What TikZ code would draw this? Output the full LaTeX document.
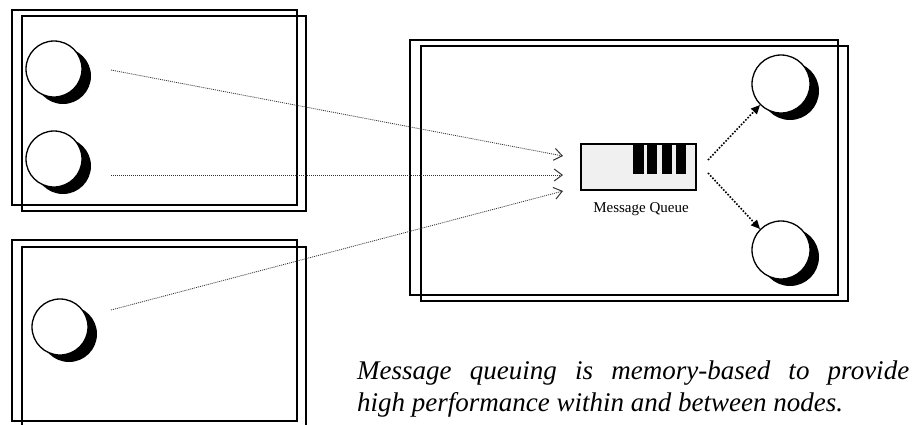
\documentclass[tikz,border=0pt]{standalone}
\usepackage{fontspec}
\setmainfont{Liberation Serif}
\usetikzlibrary{arrows.meta,shadows}
\begin{document}
\begin{tikzpicture}[x=1pt,y=-1pt,
  frame/.style={draw=black,line width=1.6pt},
  proc/.style={circle,draw=black,line width=1.3pt,fill=white,minimum size=56pt,inner sep=0pt,
    general shadow={fill=black,shadow xshift=9pt,shadow yshift=-7pt}},
  feed/.style={draw=black!80,line width=0.8pt,dash pattern=on 1pt off 1pt,
    -{Straight Barb[length=8pt,width=12pt,line width=1pt]}},
  deliver/.style={draw=black,line width=1.6pt,dash pattern=on 1.6pt off 1.6pt,
    -{Triangle[length=9pt,width=8pt]}},
  bar/.style={fill=black,draw=none}]
\useasboundingbox (0,0) rectangle (914,424);
% frames
\draw[frame] (12,10) rectangle (297,205);
\draw[frame] (22,16) rectangle (306,211);
\draw[frame] (12,240) rectangle (297,421);
\draw[frame] (22,247) rectangle (306,430);
\draw[frame] (410,40) rectangle (838,295);
\draw[frame] (421,46) rectangle (848,301);
% processes
\node[proc] (p1) at (54,69) {};
\node[proc] (p2) at (54,159) {};
\node[proc] (p3) at (60,327) {};
\node[proc,minimum size=58pt] (p4) at (781,84) {};
\node[proc,minimum size=58pt] (p5) at (781,250) {};
% queue
\node[draw=black,line width=1.3pt,fill=black!6,minimum width=115pt,minimum height=46pt,inner sep=0pt] (q) at (638.5,167) {};
\fill[bar] (633,144) rectangle (644,174);
\fill[bar] (647,144) rectangle (657,174);
\fill[bar] (662,144) rectangle (672,174);
\fill[bar] (676,144) rectangle (686,174);
\draw[line width=1.3pt] (q.north west) rectangle (q.south east);
\node[font=\fontsize{15}{17}\selectfont] (ql) at (641,209) {Message Queue};
% connector ends
\coordinate (s1) at (111,70);
\coordinate (s2) at (111,175);
\coordinate (s3) at (111,310);
\coordinate (t1) at (563,156);
\coordinate (t2) at (563,175);
\coordinate (t3) at (563,191);
\coordinate (o1) at (708,160);
\coordinate (o2) at (708,173);
\draw[feed] (s1) -- (t1);
\draw[feed] (s2) -- (t2);
\draw[feed] (s3) -- (t3);
\draw[deliver] (o1) -- (p4.south west);
\draw[deliver] (o2) -- (p5.north west);
% caption
\node[anchor=north west,inner sep=0pt,text width=552pt,align=justify,
  font=\itshape\fontsize{27}{32}\selectfont] (cap) at (357,361)
  {Message queuing is memory-based to provide\linebreak high performance within and between nodes.};
\end{tikzpicture}
\end{document}
